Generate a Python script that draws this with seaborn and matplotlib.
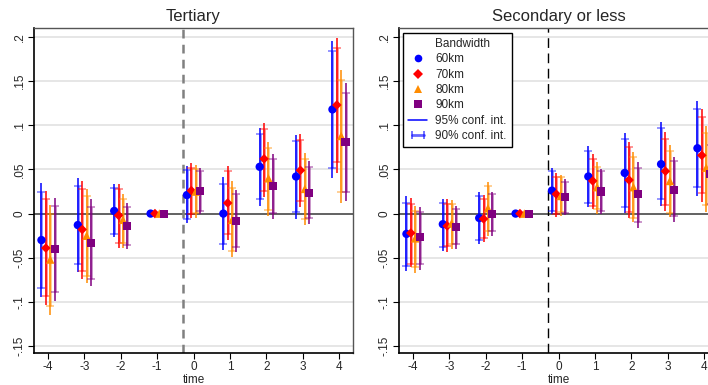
import numpy as np
import pandas as pd
import matplotlib
matplotlib.use("Agg")
import matplotlib.pyplot as plt
from matplotlib.lines import Line2D
from matplotlib.legend_handler import HandlerLine2D
import seaborn as sns

# Event time (years relative to treatment) and bandwidths
times = [-4, -3, -2, -1, 0, 1, 2, 3, 4]
bandwidths = ["60km", "70km", "80km", "90km"]
tick_vals = [-0.15, -0.1, -0.05, 0, 0.05, 0.1, 0.15, 0.2]
tick_text = ["-.15", "-.1", "-.05", "0", ".05", ".1", ".15", ".2"]

# Tertiary: point estimates and confidence bounds, one row per bandwidth
tert_coef = [
    [-0.030, -0.013, 0.003, 0, 0.021, 0.000, 0.053, 0.042, 0.118],
    [-0.039, -0.018, -0.002, 0, 0.026, 0.012, 0.062, 0.049, 0.123],
    [-0.052, -0.025, -0.007, 0, 0.025, -0.007, 0.040, 0.028, 0.088],
    [-0.040, -0.033, -0.014, 0, 0.026, -0.008, 0.031, 0.023, 0.081],
]
tert_hi95 = [
    [0.035, 0.040, 0.034, 0, 0.054, 0.041, 0.097, 0.089, 0.196],
    [0.026, 0.037, 0.034, 0, 0.057, 0.054, 0.103, 0.090, 0.199],
    [0.010, 0.028, 0.022, 0, 0.055, 0.037, 0.081, 0.069, 0.163],
    [0.018, 0.016, 0.012, 0, 0.052, 0.027, 0.067, 0.059, 0.148],
]
tert_lo95 = [
    [-0.095, -0.066, -0.027, 0, -0.011, -0.041, 0.009, -0.006, 0.040],
    [-0.104, -0.074, -0.039, 0, -0.005, -0.030, 0.019, 0.007, 0.046],
    [-0.115, -0.079, -0.039, 0, -0.005, -0.049, -0.003, -0.013, 0.012],
    [-0.099, -0.082, -0.040, 0, -0.001, -0.044, -0.006, -0.012, 0.014],
]
tert_hi90 = [
    [0.024, 0.031, 0.029, 0, 0.049, 0.034, 0.090, 0.082, 0.184],
    [0.016, 0.028, 0.028, 0, 0.052, 0.048, 0.096, 0.083, 0.187],
    [0.000, 0.020, 0.017, 0, 0.051, 0.029, 0.074, 0.062, 0.151],
    [0.009, 0.007, 0.008, 0, 0.048, 0.022, 0.062, 0.053, 0.137],
]
tert_lo90 = [
    [-0.084, -0.057, -0.023, 0, -0.006, -0.034, 0.016, 0.002, 0.052],
    [-0.093, -0.065, -0.033, 0, 0.000, -0.023, 0.026, 0.014, 0.058],
    [-0.105, -0.071, -0.033, 0, 0.001, -0.042, 0.004, -0.006, 0.024],
    [-0.089, -0.074, -0.036, 0, 0.003, -0.038, 0.001, -0.005, 0.025],
]

# Secondary or less
sec_coef = [
    [-0.023, -0.012, -0.005, 0, 0.026, 0.042, 0.046, 0.056, 0.074],
    [-0.022, -0.014, -0.006, 0, 0.022, 0.037, 0.038, 0.048, 0.066],
    [-0.028, -0.011, 0.006, 0, 0.020, 0.030, 0.030, 0.037, 0.052],
    [-0.027, -0.015, 0.000, 0, 0.019, 0.025, 0.022, 0.027, 0.045],
]
sec_hi95 = [
    [0.020, 0.017, 0.025, 0, 0.052, 0.077, 0.091, 0.104, 0.127],
    [0.018, 0.016, 0.021, 0, 0.046, 0.068, 0.081, 0.092, 0.118],
    [0.009, 0.015, 0.036, 0, 0.044, 0.058, 0.070, 0.078, 0.099],
    [0.008, 0.009, 0.024, 0, 0.039, 0.050, 0.058, 0.064, 0.085],
]
sec_lo95 = [
    [-0.065, -0.042, -0.035, 0, 0.000, 0.007, 0.001, 0.009, 0.020],
    [-0.061, -0.043, -0.032, 0, -0.004, 0.005, -0.005, 0.003, 0.013],
    [-0.067, -0.040, -0.025, 0, -0.003, 0.000, -0.010, -0.004, 0.002],
    [-0.064, -0.040, -0.025, 0, -0.002, -0.001, -0.016, -0.009, 0.004],
]
sec_hi90 = [
    [0.012, 0.012, 0.020, 0, 0.048, 0.071, 0.085, 0.097, 0.118],
    [0.011, 0.011, 0.016, 0, 0.042, 0.062, 0.075, 0.085, 0.109],
    [0.003, 0.011, 0.031, 0, 0.041, 0.053, 0.064, 0.071, 0.091],
    [0.002, 0.005, 0.022, 0, 0.036, 0.048, 0.052, 0.059, 0.078],
]
sec_lo90 = [
    [-0.059, -0.038, -0.030, 0, 0.003, 0.012, 0.008, 0.017, 0.030],
    [-0.057, -0.037, -0.028, 0, -0.001, 0.009, 0.002, 0.010, 0.023],
    [-0.061, -0.034, -0.020, 0, 0.002, 0.005, -0.005, 0.001, 0.010],
    [-0.057, -0.035, -0.020, 0, 0.001, 0.003, -0.010, -0.003, 0.011],
]

colors = {"60km": "#0000ff", "70km": "#ff0000", "80km": "#ff8c00", "90km": "#800080"}
markers = {"60km": "o", "70km": "D", "80km": "^", "90km": "s"}
sizes = {"60km": 36, "70km": 24, "80km": 38, "90km": 34}
dodge = {"60km": -0.18, "70km": -0.06, "80km": 0.06, "90km": 0.18}

sns.set_style("white")
plt.rcParams["font.family"] = ["Liberation Sans", "DejaVu Sans"]


def build_frame(coef, lo95, hi95, lo90, hi90):
    rows = []
    for b, bw in enumerate(bandwidths):
        for t, tm in enumerate(times):
            rows.append({
                "time": tm, "bw": bw, "x": tm + dodge[bw],
                "coef": coef[b][t], "lo95": lo95[b][t], "hi95": hi95[b][t],
                "lo90": lo90[b][t], "hi90": hi90[b][t],
            })
    return pd.DataFrame(rows)


def draw_panel(ax, df, title, vline_style):
    for y in tick_vals:
        if y != 0:
            ax.axhline(y, color="#e6e6e6", lw=1.4, zorder=0)
    ax.axhline(0, color="#555555", lw=1.3, zorder=1)
    ax.axvline(-0.3, zorder=1, **vline_style)

    for bw in bandwidths:
        d = df[(df["bw"] == bw) & (df["time"] != -1)]
        c = colors[bw]
        ax.vlines(d["x"], d["lo95"], d["hi95"], color=c, lw=1.1, zorder=2)
        ax.errorbar(d["x"], d["coef"],
                    yerr=[d["coef"] - d["lo90"], d["hi90"] - d["coef"]],
                    fmt="none", ecolor=c, elinewidth=2.0, alpha=0.45,
                    capsize=2.6, capthick=1.3, zorder=2)

    sns.scatterplot(data=df, x="x", y="coef", hue="bw", style="bw",
                    palette=colors, markers=markers, size="bw", sizes=sizes,
                    edgecolor="none", linewidth=0, legend=False, ax=ax, zorder=4)

    ax.set_xlim(-4.385, 4.385)
    ax.set_ylim(-0.1579, 0.2102)
    ax.set_xticks(times)
    ax.set_xticklabels([str(t) for t in times], fontsize=8.5)
    ax.set_yticks(tick_vals)
    ax.set_yticklabels(tick_text, fontsize=8.5, rotation=90, va="center")
    ax.tick_params(axis="both", which="both", direction="out", length=4,
                   width=0.8, color="black", pad=2, left=True, bottom=True)
    ax.set_xlabel("time", fontsize=8.5, labelpad=0.5)
    ax.set_ylabel("")
    ax.set_title(title, fontsize=12, pad=5)
    for side in ["left", "bottom"]:
        ax.spines[side].set_color("black")
        ax.spines[side].set_linewidth(1.2)
    for side in ["top", "right"]:
        ax.spines[side].set_color("#555555")
        ax.spines[side].set_linewidth(1.0)


fig = plt.figure(figsize=(7.08, 3.85), dpi=100)
W, H = 708, 385
ax1 = fig.add_axes([34 / W, (H - 353) / H, 319 / W, 325 / H])
ax2 = fig.add_axes([399 / W, (H - 353) / H, 319 / W, 325 / H])

df_t = build_frame(tert_coef, tert_lo95, tert_hi95, tert_lo90, tert_hi90)
df_s = build_frame(sec_coef, sec_lo95, sec_hi95, sec_lo90, sec_hi90)

draw_panel(ax1, df_t, "Tertiary",
           dict(color="#808080", lw=1.8, ls=(0, (3.5, 2.5))))
draw_panel(ax2, df_s, "Secondary or less",
           dict(color="black", lw=1.0, ls=(0, (7, 4))))

# Legend for the right panel
handles = [Line2D([], [], color="none", marker=None)]
labels = ["Bandwidth"]
for bw in bandwidths:
    handles.append(Line2D([], [], ls="none", marker=markers[bw], color=colors[bw],
                          markersize=5.5 if bw != "70km" else 4.6, markeredgewidth=0))
    labels.append(bw)
h95 = Line2D([], [], color="#0000ff", lw=1.1)
h90 = Line2D([], [], color="#0000ff", lw=2.0, alpha=0.6, marker="|",
             markersize=5.5, markeredgewidth=1.3)
handles += [h95, h90]
labels += ["95% conf. int.", "90% conf. int."]
leg = ax2.legend(handles, labels, loc="upper left", bbox_to_anchor=(0.0125, 0.985),
                 borderaxespad=0, fontsize=8.5, frameon=True, fancybox=False,
                 edgecolor="black", framealpha=1, handlelength=1.6,
                 handletextpad=0.7, labelspacing=0.28, borderpad=0.45,
                 handler_map={h90: HandlerLine2D(numpoints=2)})
leg.get_frame().set_linewidth(1.0)

fig.savefig("out.png", dpi=100)
